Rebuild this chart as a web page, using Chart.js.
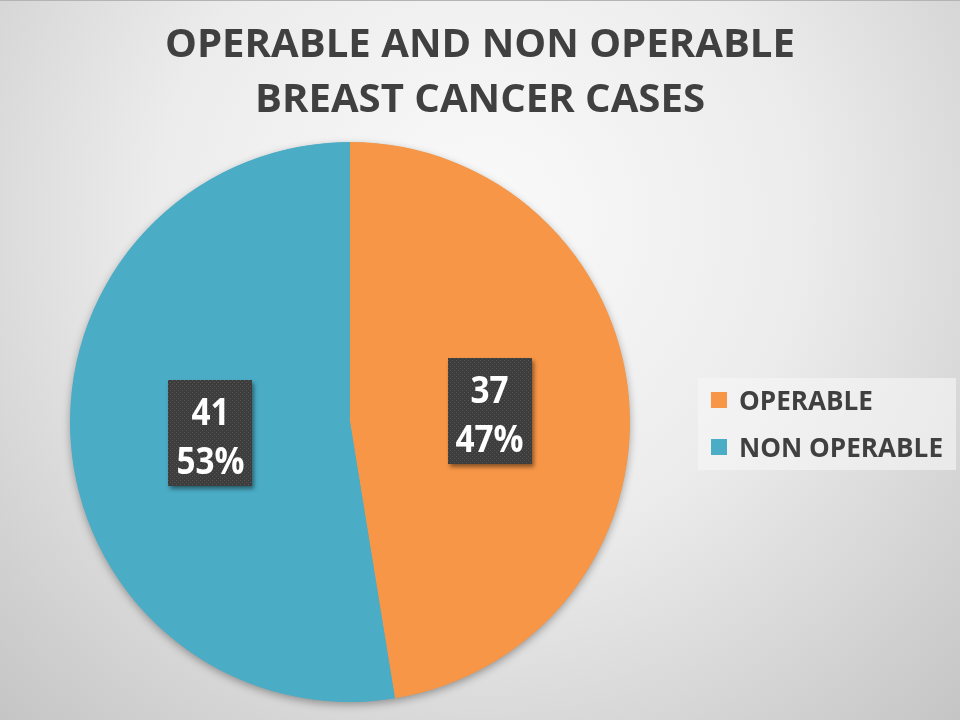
<!DOCTYPE html>
<html>
<head>
<meta charset="utf-8">
<script src="https://cdn.jsdelivr.net/npm/chart.js@4.4.1/dist/chart.umd.min.js"></script>
<style>
  html, body { margin: 0; padding: 0; background: #e6e6e6; }
  #wrap { width: 960px; height: 720px; position: relative; }
</style>
</head>
<body>
<div id="wrap"><canvas id="chart__pie"></canvas></div>
<script>
(() => {

  // Data
  const titleLines = ['OPERABLE AND NON OPERABLE', 'BREAST CANCER CASES'];
  const categories = ['OPERABLE', 'NON OPERABLE'];
  const cases = [37, 41];
  const sliceColors = ['#F79646', '#4BACC6'];

  const ctxPie = document.querySelector('#chart__pie');
  const total = cases.reduce((a, b) => a + b, 0);
  const fontFamily = '"Open Sans", "Liberation Sans", sans-serif';

  // small dotted texture for the value boxes
  const makeDots = () => {
    const c = document.createElement('canvas');
    c.width = 4; c.height = 4;
    const g = c.getContext('2d');
    g.fillStyle = '#3d3d3d';
    g.fillRect(0, 0, 4, 4);
    g.fillStyle = '#565656';
    g.fillRect(0, 0, 1, 1);
    g.fillRect(2, 2, 1, 1);
    return c;
  };
  const dotsCanvas = makeDots();

  // draw text squeezed horizontally to look like the original narrow font
  const drawText = (ctx, text, x, y, sx, align) => {
    ctx.save();
    ctx.translate(x, y);
    ctx.scale(sx, 1);
    ctx.textAlign = align;
    ctx.fillText(text, 0, 0);
    ctx.restore();
  };

  const backgroundPlugin = {
    id: 'slideBackground',
    beforeDraw(chart) {
      const { ctx, width, height } = chart;
      ctx.save();
      const grad = ctx.createRadialGradient(480, 220, 0, 480, 220, 720);
      grad.addColorStop(0, '#fafafa');
      grad.addColorStop(0.45, '#ececec');
      grad.addColorStop(1, '#c2c2c2');
      ctx.fillStyle = grad;
      ctx.fillRect(0, 0, width, height);
      ctx.fillStyle = '#b4b4b4';
      ctx.fillRect(0, 0, width, 1);
      ctx.restore();
    }
  };

  const pieShadowPlugin = {
    id: 'pieShadow',
    beforeDatasetsDraw(chart) {
      const arc = chart.getDatasetMeta(0).data[0];
      if (!arc) return;
      const { ctx } = chart;
      ctx.save();
      ctx.shadowColor = 'rgba(0, 0, 0, 0.35)';
      ctx.shadowBlur = 9;
      ctx.shadowOffsetY = 3;
      ctx.fillStyle = sliceColors[1];
      ctx.beginPath();
      ctx.arc(arc.x, arc.y, arc.outerRadius - 0.5, 0, Math.PI * 2);
      ctx.fill();
      ctx.restore();
    }
  };

  const valueBoxPlugin = {
    id: 'valueBoxes',
    afterDatasetsDraw(chart) {
      const { ctx } = chart;
      const meta = chart.getDatasetMeta(0);
      meta.data.forEach((arc, i) => {
        const p = arc.getCenterPoint();
        const bw = 84, bh = 106;
        const bx = Math.round(p.x - bw / 2), by = Math.round(p.y - bh / 2);
        ctx.save();
        ctx.shadowColor = 'rgba(0, 0, 0, 0.45)';
        ctx.shadowBlur = 4;
        ctx.shadowOffsetX = 2;
        ctx.shadowOffsetY = 3;
        ctx.fillStyle = ctx.createPattern(dotsCanvas, 'repeat');
        ctx.fillRect(bx, by, bw, bh);
        ctx.restore();

        ctx.save();
        ctx.fillStyle = '#ffffff';
        ctx.font = 'bold 37px ' + fontFamily;
        ctx.textBaseline = 'alphabetic';
        const pct = Math.round(cases[i] / total * 100) + '%';
        drawText(ctx, String(cases[i]), p.x, p.y - 8, 0.9, 'center');
        drawText(ctx, pct, p.x, p.y + 41, 0.9, 'center');
        ctx.restore();
      });
    }
  };

  const titleLegendPlugin = {
    id: 'titleLegend',
    afterDraw(chart) {
      const { ctx } = chart;
      ctx.save();

      // Title
      ctx.fillStyle = '#404040';
      ctx.font = 'bold 40px ' + fontFamily;
      ctx.textBaseline = 'alphabetic';
      const sx = 630 / ctx.measureText(titleLines[0]).width;
      drawText(ctx, titleLines[0], 480, 57, sx, 'center');
      drawText(ctx, titleLines[1], 480, 112, sx, 'center');

      // Legend
      ctx.fillStyle = 'rgba(246, 246, 246, 0.6)';
      ctx.fillRect(698, 378, 258, 92);
      ctx.font = 'bold 26px ' + fontFamily;
      const lsx = 204 / ctx.measureText(categories[1]).width;
      categories.forEach((name, i) => {
        const rowY = 392 + i * 47;
        ctx.fillStyle = sliceColors[i];
        ctx.fillRect(711, rowY, 16, 16);
        ctx.fillStyle = '#404040';
        drawText(ctx, name, 739, rowY + 18, lsx, 'left');
      });

      ctx.restore();
    }
  };

  const chartPie = new Chart(ctxPie, {
    type: 'pie',
    data: {
      labels: categories,
      datasets: [{
        label: 'Cases',
        data: cases,
        backgroundColor: sliceColors,
        borderWidth: 0
      }]
    },
    options: {
      responsive: true,
      maintainAspectRatio: false,
      animation: false,
      layout: {
        padding: { left: 70, right: 330, top: 142, bottom: 18 }
      },
      plugins: {
        legend: { display: false },
        title: { display: false },
        tooltip: { enabled: false }
      }
    },
    plugins: [backgroundPlugin, pieShadowPlugin, valueBoxPlugin, titleLegendPlugin]
  });

})();
</script>
</body>
</html>
